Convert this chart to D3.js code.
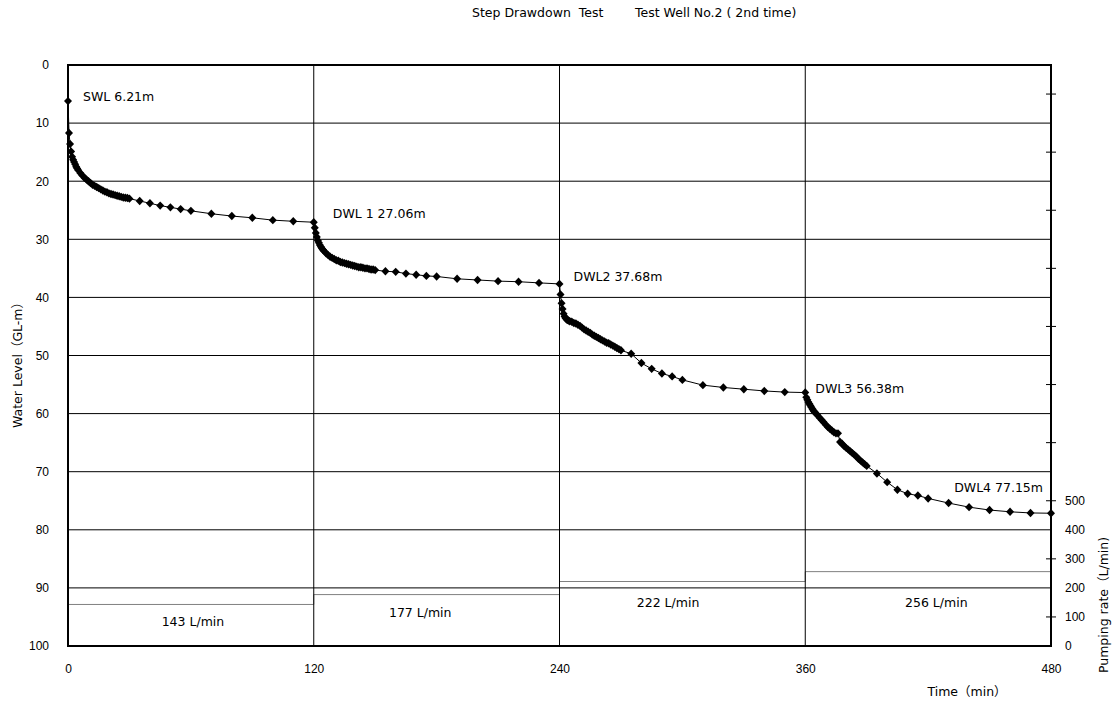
<!DOCTYPE html>
<html>
<head>
<meta charset="utf-8">
<script src="https://cdn.jsdelivr.net/npm/d3@7"></script>
<style>
  body { margin: 0; background: #fff; }
  svg { font-family: "DejaVu Sans", "Noto Sans CJK JP", sans-serif; }
  .tick text { font-size: 12px; fill: #000; }
  .lbl { font-size: 12.5px; fill: #000; white-space: pre; }
</style>
</head>
<body>
<svg width="1117" height="710"></svg>
<script>
// minutes after the start of each step (same schedule for every step)
let minutes = [0, 0.5, 1, 1.5, 2, 2.5, 3, 3.5, 4, 4.5,
    5, 6, 7, 8, 9, 10, 11, 12, 13, 14, 15, 16, 17, 18, 19, 20,
    21, 22, 23, 24, 25, 26, 27, 28, 29, 30,
    35, 40, 45, 50, 55, 60, 70, 80, 90, 100, 110, 120]

let stepStart = [0, 120, 240, 360]

let level1 = [6.21, 11.7, 13.6, 14.9, 15.8, 16.3, 16.7, 17.1, 17.5, 17.8,
    18.1, 18.6, 19.0, 19.4, 19.7, 20.0, 20.3, 20.6, 20.8, 21.0, 21.2, 21.4, 21.6, 21.8, 21.9, 22.1,
    22.2, 22.3, 22.4, 22.5, 22.6, 22.7, 22.8, 22.85, 22.9, 23.0,
    23.4, 23.8, 24.2, 24.5, 24.8, 25.1, 25.6, 26.0, 26.3, 26.7, 26.9, 27.06]

let level2 = [27.06, 28.0, 28.9, 29.6, 30.2, 30.6, 31.0, 31.3, 31.6, 31.8,
    32.0, 32.4, 32.7, 33.0, 33.2, 33.4, 33.6, 33.7, 33.9, 34.0, 34.1, 34.2, 34.3, 34.4, 34.5, 34.6,
    34.7, 34.8, 34.8, 34.9, 35.0, 35.0, 35.1, 35.2, 35.2, 35.3,
    35.5, 35.6, 35.9, 36.1, 36.3, 36.4, 36.8, 37.0, 37.2, 37.3, 37.5, 37.68]

let level3 = [37.68, 39.5, 41.0, 42.0, 42.8, 43.3, 43.6, 43.8, 43.9, 44.0,
    44.1, 44.2, 44.4, 44.5, 44.7, 44.9, 45.2, 45.5, 45.7, 45.9, 46.1, 46.4, 46.6, 46.8, 47.0, 47.2,
    47.4, 47.6, 47.8, 47.9, 48.1, 48.3, 48.5, 48.7, 48.9, 49.1,
    49.7, 51.3, 52.3, 53.1, 53.6, 54.2, 55.1, 55.5, 55.8, 56.1, 56.3, 56.38]

let level4 = [56.38, 57.2, 57.6, 58.0, 58.3, 58.6, 58.9, 59.2, 59.5, 59.7,
    59.9, 60.3, 60.7, 61.1, 61.5, 61.9, 62.3, 62.6, 62.9, 63.2, 63.4, 63.4, 64.9, 65.2, 65.6, 65.9,
    66.2, 66.5, 66.8, 67.1, 67.4, 67.8, 68.1, 68.4, 68.7, 69.0,
    70.3, 71.8, 73.1, 73.8, 74.1, 74.6, 75.4, 76.1, 76.6, 76.9, 77.1, 77.15]

let rates = [143, 177, 222, 256]
let rateText = ['143 L/min', '177 L/min', '222 L/min', '256 L/min']

let levelTicks = [0, 10, 20, 30, 40, 50, 60, 70, 80, 90, 100]
let timeTicks = [0, 120, 240, 360, 480]
let rateTicks = [0, 100, 200, 300, 400, 500]
let rateMinor = [100, 300, 500, 700, 900, 1100, 1300, 1500, 1700, 1900]

let notes = ['SWL 6.21m', 'DWL 1 27.06m', 'DWL2 37.68m', 'DWL3 56.38m', 'DWL4 77.15m']

let svg = d3.select('svg')
let box = { left: 68, right: 1051, top: 65, bottom: 646 }

let scale = {
    x: d3.scaleLinear().domain([0, 480]).range([box.left, box.right]),
    y: d3.scaleLinear().domain([0, 100]).range([box.top, box.bottom]),
    r: d3.scaleLinear().domain([0, 2000]).range([box.bottom, box.top])
}

let levels = [level1, level2, level3, level4]
let points = []
levels.forEach((lv, s) => {
    lv.forEach((v, i) => {
        if (s > 0 && i == 0) return
        points.push({ t: stepStart[s] + minutes[i], v: v })
    })
})

// horizontal grid
svg.append('g')
    .selectAll('line')
    .data(levelTicks.slice(1, -1))
    .enter()
    .append('line')
    .attr('x1', box.left).attr('x2', box.right)
    .attr('y1', d => scale.y(d)).attr('y2', d => scale.y(d))
    .attr('stroke', '#000').attr('stroke-width', 1)

// pumping rate steps
let rateSteps = rates.map((r, i) => ({ t: stepStart[i], r: r }))
rateSteps.push({ t: 480, r: rates[rates.length - 1] })
svg.append('path')
    .datum(rateSteps)
    .attr('fill', 'none')
    .attr('stroke', '#808080')
    .attr('stroke-width', 1)
    .attr('d', d3.line().curve(d3.curveStepAfter).x(d => scale.x(d.t)).y(d => scale.r(d.r)))

// vertical grid
svg.append('g')
    .selectAll('line')
    .data(timeTicks.slice(1, -1))
    .enter()
    .append('line')
    .attr('y1', box.top).attr('y2', box.bottom)
    .attr('x1', d => scale.x(d)).attr('x2', d => scale.x(d))
    .attr('stroke', '#000').attr('stroke-width', 1)

// frame
svg.append('rect')
    .attr('x', box.left).attr('y', box.top)
    .attr('width', box.right - box.left).attr('height', box.bottom - box.top)
    .attr('fill', 'none').attr('stroke', '#000').attr('stroke-width', 2)

// Y axis
let yAxis = svg.append('g')
    .attr('transform', `translate(${box.left},0)`)
    .call(d3.axisLeft(scale.y).tickValues(levelTicks).tickSize(0).tickPadding(19))
yAxis.select('.domain').remove()

// X axis
let xAxis = svg.append('g')
    .attr('transform', `translate(0,${box.bottom})`)
    .call(d3.axisBottom(scale.x).tickValues(timeTicks).tickSize(0).tickPadding(18))
xAxis.select('.domain').remove()

// right axis (pumping rate)
let rAxis = svg.append('g')
    .attr('transform', `translate(${box.right},0)`)
    .call(d3.axisRight(scale.r).tickValues(rateTicks).tickSize(0).tickPadding(14))
rAxis.select('.domain').remove()

svg.append('g')
    .selectAll('line')
    .data(rateMinor)
    .enter()
    .append('line')
    .attr('x1', box.right - 5).attr('x2', box.right + 5)
    .attr('y1', d => scale.r(d)).attr('y2', d => scale.r(d))
    .attr('stroke', '#000').attr('stroke-width', 1)

// water level line + markers
svg.append('path')
    .datum(points)
    .attr('fill', 'none')
    .attr('stroke', '#000')
    .attr('stroke-width', 1)
    .attr('d', d3.line().x(d => scale.x(d.t)).y(d => scale.y(d.v)))

svg.append('g')
    .selectAll('path')
    .data(points)
    .enter()
    .append('path')
    .attr('d', 'M0,-4.2L4,0L0,4.2L-4,0Z')
    .attr('transform', d => `translate(${scale.x(d.t)},${scale.y(d.v)})`)
    .attr('fill', '#000')

// annotations
let noteAt = [
    { t: 0, v: level1[0], dx: 15, dy: -4, anchor: 'start' },
    { t: 120, v: level1[level1.length - 1], dx: 19, dy: -9, anchor: 'start' },
    { t: 240, v: level2[level2.length - 1], dx: 14, dy: -7, anchor: 'start' },
    { t: 360, v: level3[level3.length - 1], dx: 10, dy: -4, anchor: 'start' },
    { t: 480, v: level4[level4.length - 1], dx: -8, dy: -26, anchor: 'end' }
]
svg.append('g')
    .selectAll('text')
    .data(notes)
    .enter()
    .append('text')
    .attr('class', 'lbl')
    .attr('x', (d, i) => scale.x(noteAt[i].t) + noteAt[i].dx)
    .attr('y', (d, i) => scale.y(noteAt[i].v) + noteAt[i].dy)
    .attr('dy', '0.35em')
    .attr('text-anchor', (d, i) => noteAt[i].anchor)
    .text(d => d)

// rate labels
let rateLabelAt = [{ t: 61, y: 622 }, { t: 172, y: 613 }, { t: 293, y: 603 }, { t: 424, y: 603 }]
svg.append('g')
    .selectAll('text')
    .data(rateText)
    .enter()
    .append('text')
    .attr('class', 'lbl')
    .attr('x', (d, i) => scale.x(rateLabelAt[i].t))
    .attr('y', (d, i) => rateLabelAt[i].y)
    .attr('dy', '0.35em')
    .attr('text-anchor', 'middle')
    .text(d => d)

// titles
svg.append('text')
    .attr('class', 'lbl')
    .attr('x', 472).attr('y', 13)
    .attr('dy', '0.35em')
    .text('Step Drawdown  Test')

svg.append('text')
    .attr('class', 'lbl')
    .attr('x', 635).attr('y', 13)
    .attr('dy', '0.35em')
    .text('Test Well No.2 ( 2nd time)')

svg.append('text')
    .attr('class', 'lbl')
    .attr('transform', 'translate(18,362) rotate(-90)')
    .attr('dy', '0.35em')
    .attr('text-anchor', 'middle')
    .text('Water Level（GL-m）')

svg.append('text')
    .attr('class', 'lbl')
    .attr('transform', 'translate(1104,605) rotate(-90)')
    .attr('dy', '0.35em')
    .attr('text-anchor', 'middle')
    .text('Pumping rate（L/min)')

svg.append('text')
    .attr('class', 'lbl')
    .attr('x', 967).attr('y', 692)
    .attr('dy', '0.35em')
    .attr('text-anchor', 'middle')
    .text('Time（min）')
</script>
</body>
</html>
